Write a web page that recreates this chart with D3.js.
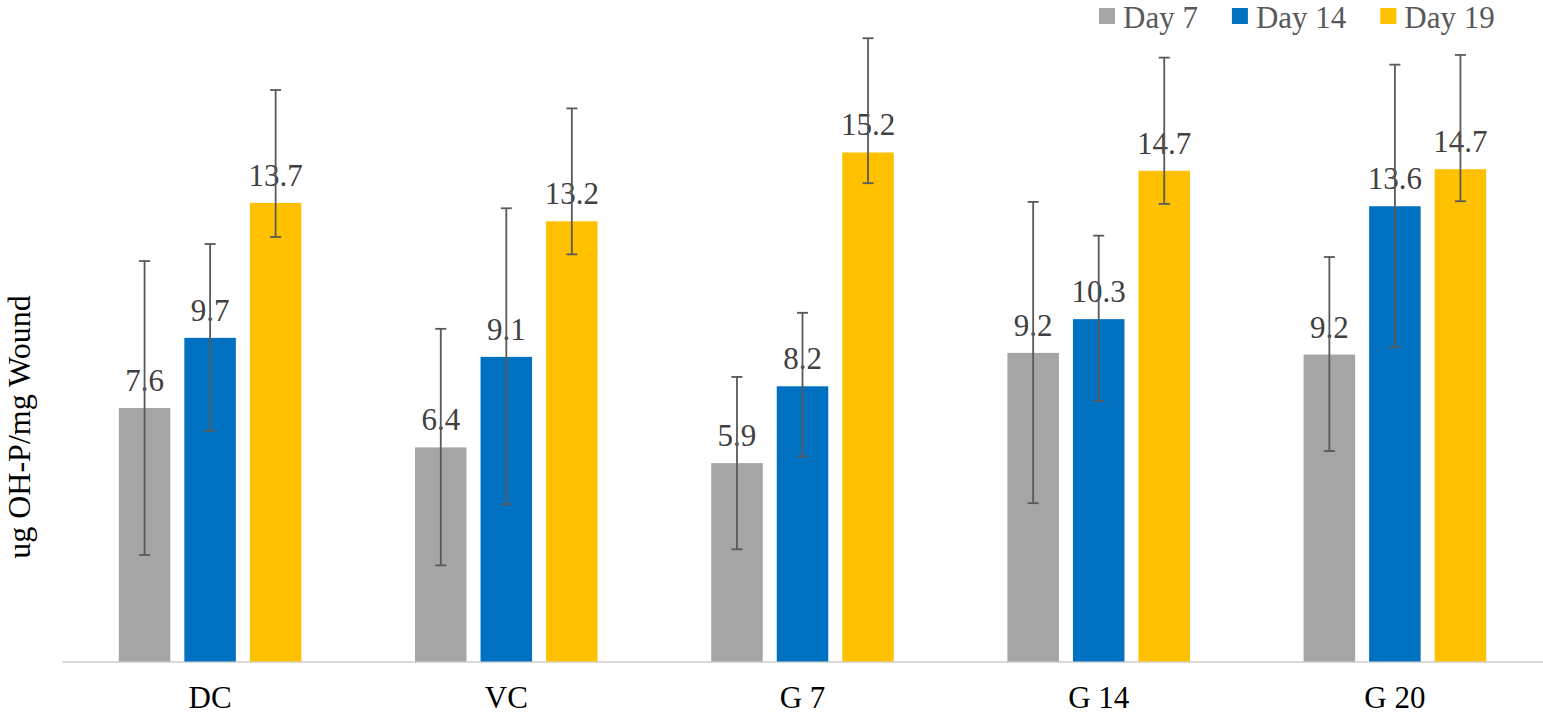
<!DOCTYPE html>
<html>
<head>
<meta charset="utf-8">
<script src="https://cdn.jsdelivr.net/npm/d3@7"></script>
<style>
  body { margin: 0; background: #fff; }
  svg { display: block; font-family: "Liberation Serif", "Times New Roman", serif; }
</style>
</head>
<body>
<div id="chart_container"></div>
<script>
// --------------------------- Data ---------------------------
const groups = ["DC", "VC", "G 7", "G 14", "G 20"];
const seriesNames = ["Day 7", "Day 14", "Day 19"];
const seriesColors = ["#a5a5a5", "#0070c0", "#ffc000"];

// mean values per series, one entry per group
const day7 = [7.59, 6.41, 5.94, 9.24, 9.19];
const day14 = [9.69, 9.12, 8.24, 10.25, 13.63];
const day19 = [13.73, 13.18, 15.24, 14.69, 14.74];

// error bar lengths (plus / minus) per series
const day7ErrUp = [4.4, 3.55, 2.58, 4.52, 2.92];
const day7ErrDown = [4.4, 3.53, 2.58, 4.5, 2.89];
const day14ErrUp = [2.81, 4.45, 2.2, 2.5, 4.24];
const day14ErrDown = [2.78, 4.41, 2.1, 2.45, 4.22];
const day19ErrUp = [3.38, 3.38, 3.42, 3.39, 3.42];
const day19ErrDown = [1.02, 0.99, 0.92, 0.99, 0.96];

const yTitle = "ug OH-P/mg Wound";

(function () {
  const width = 1543;
  const height = 714;

  const seriesValues = [day7, day14, day19];
  const seriesUp = [day7ErrUp, day14ErrUp, day19ErrUp];
  const seriesDown = [day7ErrDown, day14ErrDown, day19ErrDown];

  // flatten into one record per bar
  const bars = [];
  groups.forEach((g, gi) => {
    seriesNames.forEach((s, si) => {
      bars.push({
        group: g,
        series: s,
        value: seriesValues[si][gi],
        up: seriesUp[si][gi],
        down: seriesDown[si][gi],
        color: seriesColors[si],
      });
    });
  });

  const svg = d3
    .select("#chart_container")
    .append("svg")
    .attr("width", width)
    .attr("height", height);

  // --------------------------- Scales ---------------------------
  const x0 = d3.scaleBand().domain(groups).range([62, 1543]).padding(0);

  const x1 = d3
    .scaleBand()
    .domain(seriesNames)
    .range([0, x0.bandwidth()])
    .paddingInner(0.214)
    .paddingOuter(0.867);

  const y = d3.scaleLinear().domain([0, 20]).range([661.5, -6.5]);

  // --------------------------- Axis ---------------------------
  const xAxis = svg
    .append("g")
    .attr("transform", `translate(0,${y(0)})`)
    .call(d3.axisBottom(x0).tickSize(0).tickPadding(24));

  xAxis.select(".domain").attr("stroke", "#d9d9d9").attr("stroke-width", 2);
  xAxis
    .selectAll(".tick text")
    .attr("font-size", 31)
    .attr("fill", "#000")
    .attr("font-family", "Liberation Serif, Times New Roman, serif");

  // --------------------------- Bars ---------------------------
  const barG = svg.append("g");

  barG
    .selectAll("rect.bar")
    .data(bars)
    .join("rect")
    .attr("class", "bar")
    .attr("x", (d) => x0(d.group) + x1(d.series))
    .attr("y", (d) => y(d.value))
    .attr("width", x1.bandwidth())
    .attr("height", (d) => y(0) - y(d.value))
    .attr("fill", (d) => d.color);

  // value labels
  barG
    .selectAll("text.value")
    .data(bars)
    .join("text")
    .attr("class", "value")
    .attr("x", (d) => x0(d.group) + x1(d.series) + x1.bandwidth() / 2)
    .attr("y", (d) => y(d.value) - 17)
    .attr("text-anchor", "middle")
    .attr("font-size", 31)
    .attr("fill", "#404040")
    .text((d) => d3.format(".1f")(d.value));

  // --------------------------- Error bars ---------------------------
  const errG = svg
    .append("g")
    .attr("stroke", "#595959")
    .attr("stroke-width", 1.8)
    .attr("fill", "none");

  const errs = errG
    .selectAll("g.err")
    .data(bars)
    .join("g")
    .attr("class", "err")
    .attr(
      "transform",
      (d) => `translate(${x0(d.group) + x1(d.series) + x1.bandwidth() / 2},0)`
    );

  errs
    .append("line")
    .attr("y1", (d) => y(d.value + d.up))
    .attr("y2", (d) => y(d.value - d.down));

  errs
    .append("line")
    .attr("x1", -5.5)
    .attr("x2", 5.5)
    .attr("y1", (d) => y(d.value + d.up))
    .attr("y2", (d) => y(d.value + d.up));

  errs
    .append("line")
    .attr("x1", -5.5)
    .attr("x2", 5.5)
    .attr("y1", (d) => y(d.value - d.down))
    .attr("y2", (d) => y(d.value - d.down));

  // --------------------------- Y title ---------------------------
  svg
    .append("text")
    .attr("transform", "translate(30,427) rotate(-90)")
    .attr("text-anchor", "middle")
    .attr("font-size", 32)
    .attr("fill", "#000")
    .text(yTitle);

  // --------------------------- Legend ---------------------------
  const legend = svg.append("g").attr("transform", "translate(1099,2)");
  let lx = 0;
  seriesNames.forEach((s, i) => {
    const item = legend.append("g").attr("transform", `translate(${lx},0)`);
    item
      .append("rect")
      .attr("x", 0)
      .attr("y", 6)
      .attr("width", 16)
      .attr("height", 16)
      .attr("fill", seriesColors[i]);
    const t = item
      .append("text")
      .attr("x", 24)
      .attr("y", 26)
      .attr("font-size", 31)
      .attr("fill", "#595959")
      .text(s);
    lx += 24 + t.node().getComputedTextLength() + 34;
  });
})();
</script>
</body>
</html>
